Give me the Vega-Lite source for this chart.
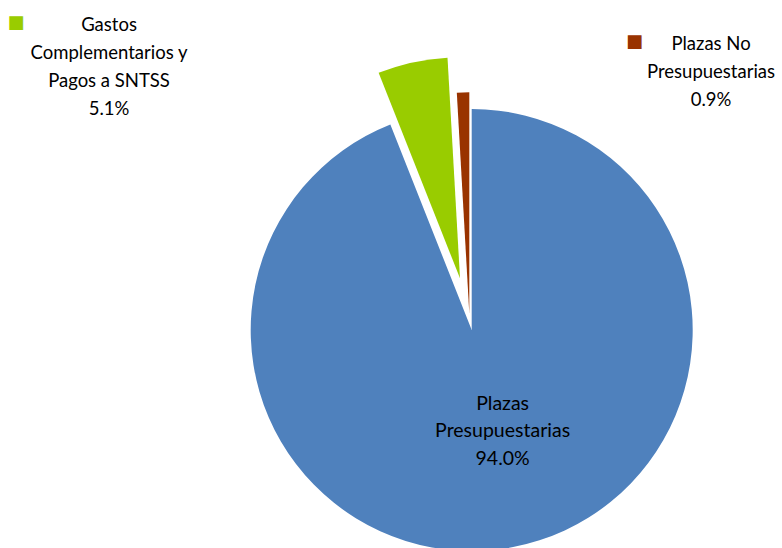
{
  "$schema": "https://vega.github.io/schema/vega-lite/v6.json",
  "width": 624,
  "height": 453,
  "autosize": "none",
  "padding": {"left": 158, "top": 95, "right": 0, "bottom": 0},
  "background": "white",
  "view": {"stroke": null},
  "config": {"text": {"font": "Lato", "fontSize": 18.5, "color": "black"}},
  "data": {
    "values": [
      {"category": "Plazas Presupuestarias", "label": "Plazas\nPresupuestarias\n94.0%", "value": 94.0},
      {"category": "Gastos Complementarios y Pagos a SNTSS", "label": "Gastos\nComplementarios y\nPagos a SNTSS\n5.1%", "value": 5.1},
      {"category": "Plazas No Presupuestarias", "label": "Plazas No\nPresupuestarias\n0.9%", "value": 0.9}
    ]
  },
  "encoding": {
    "theta": {"field": "value", "type": "quantitative", "stack": true},
    "order": {"field": "value", "type": "quantitative", "sort": "descending"}
  },
  "layer": [
    {
      "mark": {"type": "arc", "radius": 221, "xOffset": 1.7, "yOffset": 8.5},
      "encoding": {
        "color": {"field": "category", "type": "nominal", "legend": null,
          "scale": {"domain": ["Plazas Presupuestarias", "Gastos Complementarios y Pagos a SNTSS", "Plazas No Presupuestarias"], "range": ["#4F81BD", "#99CC00", "#993300"]}},
        "opacity": {"condition": {"test": "datum.category === 'Plazas Presupuestarias'", "value": 1}, "value": 0}
      }
    },
    {
      "mark": {"type": "arc", "radius": 221, "xOffset": -10, "yOffset": -43.2},
      "encoding": {
        "color": {"field": "category", "type": "nominal", "legend": null},
        "opacity": {"condition": {"test": "datum.category === 'Gastos Complementarios y Pagos a SNTSS'", "value": 1}, "value": 0}
      }
    },
    {
      "mark": {"type": "arc", "radius": 221, "xOffset": -0.7, "yOffset": -8.2},
      "encoding": {
        "color": {"field": "category", "type": "nominal", "legend": null},
        "opacity": {"condition": {"test": "datum.category === 'Plazas No Presupuestarias'", "value": 1}, "value": 0}
      }
    },
    {
      "mark": {"type": "text", "radius": 113.6, "dx": 11.3, "dy": -29.3, "align": "center", "baseline": "middle", "lineBreak": "\n", "lineHeight": 27.5, "fontSize": 19.5},
      "encoding": {
        "text": {"condition": {"test": "datum.category === 'Plazas Presupuestarias'", "field": "label", "type": "nominal"}, "value": ""}
      }
    },
    {
      "mark": {"type": "text", "radius": 250, "dx": -307.2, "dy": -52.5, "align": "center", "baseline": "middle", "lineBreak": "\n", "lineHeight": 28},
      "encoding": {
        "text": {"condition": {"test": "datum.category === 'Gastos Complementarios y Pagos a SNTSS'", "field": "label", "type": "nominal"}, "value": ""}
      }
    },
    {
      "mark": {"type": "text", "radius": 250, "dx": 248.1, "dy": -27.6, "align": "center", "baseline": "middle", "lineBreak": "\n", "lineHeight": 28},
      "encoding": {
        "text": {"condition": {"test": "datum.category === 'Plazas No Presupuestarias'", "field": "label", "type": "nominal"}, "value": ""}
      }
    },
    {
      "mark": {"type": "text", "radius": 250, "dx": -400.2, "dy": -54.8, "align": "center", "baseline": "middle", "font": "DejaVu Sans", "fontSize": 18},
      "encoding": {
        "color": {"field": "category", "type": "nominal", "legend": null},
        "text": {"condition": {"test": "datum.category === 'Gastos Complementarios y Pagos a SNTSS'", "value": "■"}, "value": ""}
      }
    },
    {
      "mark": {"type": "text", "radius": 250, "dx": 171.6, "dy": -29.1, "align": "center", "baseline": "middle", "font": "DejaVu Sans", "fontSize": 18},
      "encoding": {
        "color": {"field": "category", "type": "nominal", "legend": null},
        "text": {"condition": {"test": "datum.category === 'Plazas No Presupuestarias'", "value": "■"}, "value": ""}
      }
    }
  ]
}
